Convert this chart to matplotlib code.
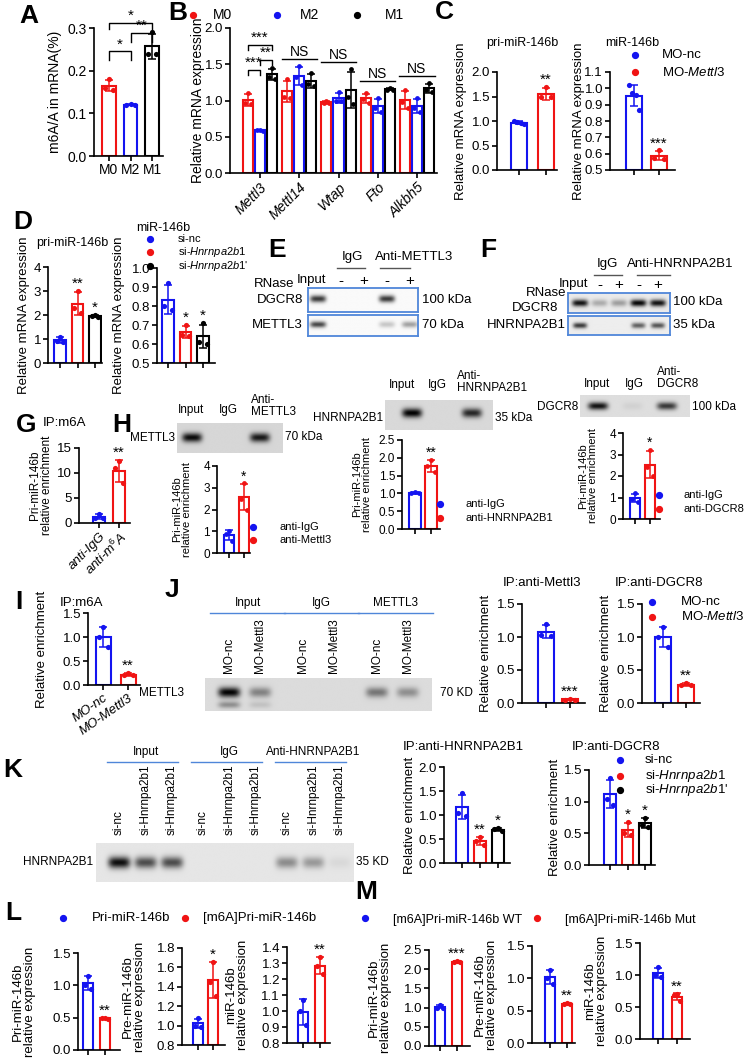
import numpy as np
import matplotlib
matplotlib.use("Agg")
import matplotlib.pyplot as plt
from matplotlib.lines import Line2D

# ---------------------------------------------------------------- data
A_groups = ["M0", "M2", "M1"]
A_vals = [[0.18, 0.16, 0.155], [0.122, 0.12, 0.119], [0.29, 0.24, 0.24]]

B_genes = ["Mettl3", "Mettl14", "Wtap", "Fto", "Alkbh5"]
B_series = ["M0", "M2", "M1"]
B_M0 = [[1.10, 0.97, 0.95], [1.29, 1.05, 1.04], [1.00, 0.97, 0.96], [1.10, 1.02, 0.97], [1.14, 0.98, 0.90]]
B_M2 = [[0.60, 0.59, 0.58], [1.47, 1.33, 1.22], [1.12, 1.00, 0.99], [1.03, 0.90, 0.84], [1.03, 0.90, 0.84]]
B_M1 = [[1.45, 1.33, 1.30], [1.38, 1.23, 1.20], [1.43, 1.05, 0.95], [1.17, 1.15, 1.14], [1.24, 1.15, 1.12]]

C_pri_nc = [1.00, 0.98, 0.95, 0.93]
C_pri_mo = [1.70, 1.50, 1.48]
C_mir_nc = [1.02, 0.97, 0.96, 0.87]
C_mir_mo = [0.62, 0.575, 0.57]

D_pri = [[1.10, 0.90, 0.88], [3.00, 2.30, 2.10], [2.00, 1.97, 1.93]]
D_mir = [[0.92, 0.80, 0.78], [0.70, 0.65, 0.64], [0.71, 0.61, 0.60]]
D_names = ["si-nc", "si-$\\mathit{Hnrnpa2b1}$", "si-$\\mathit{Hnrnpa2b1}$'"]

E_lanes_dgcr8 = [0.75, 0.0, 0.0, 0.75, 0.0]
E_lanes_mettl3 = [0.70, 0.0, 0.0, 0.20, 0.35]
F_lanes_dgcr8 = [0.85, 0.25, 0.30, 0.90, 0.85]
F_lanes_hnrnp = [0.70, 0.0, 0.0, 0.55, 0.60]

G_vals = [[1.8, 1.0, 0.9], [12.3, 11.0, 8.0]]
G_labels = ["anti-IgG", "anti-m$^{6}$A"]

H1_blot = [0.80, 0.0, 0.75]
H2_blot = [0.85, 0.0, 0.70]
H3_blot = [0.80, 0.05, 0.65]
H1_vals = [[1.0, 0.88, 0.55], [3.2, 2.5, 2.0]]
H2_vals = [[1.05, 1.0, 1.0], [1.95, 1.78, 1.60]]
H3_vals = [[1.2, 0.95, 0.8], [3.2, 2.4, 2.0]]

I_vals = [[1.2, 1.0, 0.8], [0.25, 0.20, 0.20]]
MO_names = ["MO-nc", "MO-Mettl3"]

J_blot_main = [0.85, 0.35, 0.0, 0.0, 0.40, 0.30]
J_blot_low = [0.30, 0.10, 0.0, 0.0, 0.0, 0.0]
J1_vals = [[1.2, 1.03, 1.02], [0.06, 0.05, 0.05]]
J2_vals = [[1.15, 1.0, 0.85], [0.30, 0.27, 0.27]]

K_blot = [0.85, 0.60, 0.60, 0.0, 0.0, 0.0, 0.35, 0.30, 0.05]
K1_vals = [[1.45, 1.05, 0.98], [0.55, 0.45, 0.38], [0.73, 0.70, 0.66]]
K2_vals = [[1.37, 1.05, 0.95], [0.68, 0.50, 0.48], [0.75, 0.63, 0.60]]

L1_vals = [[1.15, 1.0, 0.95], [0.50, 0.49, 0.48]]
L2_vals = [[1.08, 1.0, 0.99], [1.66, 1.45, 1.30]]
L3_vals = [[1.07, 1.0, 0.91], [1.34, 1.28, 1.23]]
M1_vals = [[1.07, 1.0, 1.0], [2.21, 2.19, 2.18]]
M2_vals = [[1.13, 1.0, 0.92], [0.62, 0.61, 0.60]]
M3_vals = [[1.12, 1.0, 0.97], [0.70, 0.68, 0.60]]

# ---------------------------------------------------------------- style
FAM = ['Liberation Sans', 'DejaVu Sans']
plt.rcParams.update({
    'font.family': FAM,
    'mathtext.fontset': 'custom',
    'mathtext.rm': 'Liberation Sans',
    'mathtext.it': 'Liberation Sans:italic',
    'mathtext.bf': 'Liberation Sans:bold',
})

RED, BLUE, BLACK = '#f01414', '#1414f0', '#000000'
EDGE = '#4f86d9'

W, H = 749, 1058
fig = plt.figure(figsize=(W / 100, H / 100), dpi=100)


def rect(x0, y0, x1, y1):
    return [x0 / W, 1 - y1 / H, (x1 - x0) / W, (y1 - y0) / H]


def ftext(x, y, s, **kw):
    kw.setdefault('va', 'center')
    fig.text(x / W, 1 - y / H, s, **kw)


def fdot(x, y, c, ms=4.2):
    fig.add_artist(Line2D([x / W], [1 - y / H], marker='o', color=c, ms=ms,
                          linestyle='none', transform=fig.transFigure))


def fline(x0, x1, y, c=EDGE, lw=1.0):
    fig.add_artist(Line2D([x0 / W, x1 / W], [1 - y / H, 1 - y / H], color=c, lw=lw,
                          transform=fig.transFigure))


def letter(x, y, s):
    ftext(x, y, s, fontsize=19, fontweight='bold', ha='center')


def bars(box, c0, step, width, groups, colors, ylim, yticks, dec, fs,
         xpos=None, spread=0.3, ms=14, lw=1.5):
    left, right, top, bottom = box
    ax = fig.add_axes(rect(left, top, right, bottom))
    ax.patch.set_visible(False)
    ax.set_xlim(-(c0 - left) / step, (right - c0) / step)
    ax.set_ylim(*ylim)
    if xpos is None:
        xpos = np.arange(len(groups), dtype=float)
    for p, d, c in zip(xpos, groups, colors):
        d = np.asarray(d, float)
        m, sd = d.mean(), d.std(ddof=1)
        ax.bar(p, m - ylim[0], width, bottom=ylim[0], color='white', edgecolor=c,
               linewidth=lw, zorder=2)
        eb = ax.errorbar(p, m, yerr=sd, fmt='none', ecolor=c, elinewidth=1.1,
                         capsize=3, capthick=1.1, zorder=3)
        for a in list(eb.lines[1]) + list(eb.lines[2]):
            a.set_clip_on(False)
        n = len(d)
        offs = np.array([0.0, -1.0, 1.0]) if n == 3 else np.linspace(-1, 1, n)
        ax.scatter(p + offs * width * spread, d, s=ms, color=c, zorder=4,
                   clip_on=False, linewidths=0)
    ax.set_xticks(xpos)
    ax.set_xticklabels([])
    ax.set_yticks(yticks)
    ax.set_yticklabels([f"{t:.{dec}f}" for t in yticks], fontsize=fs)
    for s in ('top', 'right'):
        ax.spines[s].set_visible(False)
    for s in ('left', 'bottom'):
        ax.spines[s].set_linewidth(1.2)
    ax.tick_params(length=3.5, width=1.2, pad=1.5, labelsize=fs)
    ax._box = box
    return ax


def ylab(ax, text, right_px, fs):
    left, right, top, bottom = ax._box
    ax.set_ylabel(text, fontsize=fs, linespacing=1.0)
    ax.yaxis.set_label_coords((right_px - left) / (right - left), 0.5)


def sig(ax, x, d, text, fs=11, pad=0.0):
    d = np.asarray(d, float)
    top = max(d.max(), d.mean() + d.std(ddof=1))
    rng = ax.get_ylim()[1] - ax.get_ylim()[0]
    ax.text(x, top + pad * rng, text, ha='center', va='bottom', fontsize=fs, clip_on=False)


def bracket(ax, x1, x2, y, leg, text, fs=11):
    ax.plot([x1, x1, x2, x2], [y - leg, y, y, y - leg], color='k', lw=1.0, clip_on=False)
    ax.text((x1 + x2) / 2, y, text, ha='center', va='bottom', fontsize=fs, clip_on=False)


def blot(box, lane_px, bands, bg, edge=None, band_w=16):
    left, right, top, bottom = box
    ax = fig.add_axes(rect(left, top, right, bottom))
    xs = np.linspace(left, right, 400)
    ys = np.linspace(0, 1, 100)
    X, Y = np.meshgrid(xs, ys)
    img = np.full(X.shape, bg)
    for intens, by, bh in bands:
        for lx, v in zip(lane_px, intens):
            img -= v * np.exp(-np.abs((X - lx) / (band_w / 2)) ** 4) * \
                np.exp(-((Y - by) / (bh / 2)) ** 2)
    ax.imshow(np.clip(img, 0, 1), cmap='gray', vmin=0, vmax=1,
              extent=[left, right, 0, 1], aspect='auto', origin='lower',
              interpolation='bilinear')
    ax.set_xlim(left, right)
    ax.set_ylim(0, 1)
    ax.set_xticks([])
    ax.set_yticks([])
    for s in ax.spines.values():
        if edge is None:
            s.set_visible(False)
        else:
            s.set_color(edge)
            s.set_linewidth(1.3)
    return ax


# ================================================================ A
letter(29, 16, 'A')
axA = bars((94, 163, 28, 156), 109, 21.5, 0.65, A_vals, [RED, BLUE, BLACK],
           (0, 0.3), [0, 0.1, 0.2, 0.3], 1, 10)
axA.set_xticklabels(A_groups, fontsize=10)
ylab(axA, 'm6A/A in mRNA(%)', 62, 10)
bracket(axA, 0, 1, 0.245, 0.02, '*')
bracket(axA, 1, 2, 0.288, 0.02, '**')
bracket(axA, 0, 2, 0.312, 0.015, '*')

# ================================================================ B
letter(178, 13, 'B')
for (dx, tx), c, s in zip([(193, 213), (277, 300), (357, 385)], [RED, BLUE, BLACK], B_series):
    fdot(dx, 15, c)
    ftext(tx, 15, s, fontsize=10, ha='left')
nB = len(B_genes)
xposB, grpB, colB = [], [], []
for g in range(nB):
    for k, (ser, c) in enumerate(zip([B_M0, B_M2, B_M1], [RED, BLUE, BLACK])):
        xposB.append(g + (k - 1) * 0.306)
        grpB.append(ser[g])
        colB.append(c)
axB = bars((230, 437, 28, 173), 260, 39.25, 0.255, grpB, colB, (0, 2.0),
           [0, 0.5, 1.0, 1.5, 2.0], 1, 9.5, xpos=np.array(xposB), spread=0.28, ms=12)
axB.set_xticks(np.arange(nB))
axB.set_xticklabels(B_genes, fontsize=10, style='italic', rotation=45, ha='right',
                    rotation_mode='anchor')
ylab(axB, 'Relative mRNA expression', 205, 10)
bracket(axB, -0.306, 0.306, 1.77, 0.07, '***')
bracket(axB, 0.0, 0.306, 1.56, 0.07, '**')
bracket(axB, -0.306, 0.0, 1.42, 0.07, '***')
for g in range(1, nB):
    top = max(max(np.max(B_M0[g]), np.max(B_M2[g]), np.max(B_M1[g])),
              max(np.mean(s[g]) + np.std(s[g], ddof=1) for s in [B_M0, B_M2, B_M1]))
    axB.plot([g - 0.45, g + 0.45], [top + 0.1] * 2, color='k', lw=1.0, clip_on=False)
    axB.text(g, top + 0.1, 'NS', ha='center', va='bottom', fontsize=10)

# ================================================================ C
letter(444, 12, 'C')
axC1 = bars((497, 557, 72, 170), 519, 27, 0.6, [C_pri_nc, C_pri_mo], [BLUE, RED],
            (0, 2.0), [0, 0.5, 1.0, 1.5, 2.0], 1, 9.5)
ylab(axC1, 'Relative mRNA expression', 467, 9.5)
sig(axC1, 1, C_pri_mo, '**')
ftext(522, 43, 'pri-miR-146b', fontsize=9, ha='center')

axC2 = bars((610, 675, 72, 170), 634, 25, 0.62, [C_mir_nc, C_mir_mo], [BLUE, RED],
            (0.5, 1.1), [0.5, 0.6, 0.7, 0.8, 0.9, 1.0, 1.1], 1, 9.5)
ylab(axC2, 'Relative mRNA expression', 585, 9.5)
sig(axC2, 1, C_mir_mo, '***')
ftext(632, 43, 'miR-146b', fontsize=9, ha='center')
fdot(635, 55, BLUE)
fdot(635, 72, RED)
ftext(662, 55, 'MO-nc', fontsize=9.5, ha='left')
ftext(662, 72, 'MO-$\\mathit{Mettl3}$', fontsize=9.5, ha='left')

# ================================================================ D
letter(23, 222, 'D')
axD1 = bars((48, 102, 267, 363), 60, 17.5, 0.63, D_pri, [BLUE, RED, BLACK],
            (0, 4), [0, 1, 2, 3, 4], 0, 9.5)
ylab(axD1, 'Relative mRNA expression', 30, 9.5)
sig(axD1, 1, D_pri[1], '**')
sig(axD1, 2, D_pri[2], '*')
ftext(72, 243, 'pri-miR-146b', fontsize=9, ha='center')

axD2 = bars((157, 215, 268, 363), 168, 17.5, 0.68, D_mir, [BLUE, RED, BLACK],
            (0.5, 1.0), [0.5, 0.6, 0.7, 0.8, 0.9, 1.0], 1, 9.5)
ylab(axD2, 'Relative mRNA expression', 125, 9.5)
sig(axD2, 1, D_mir[1], '*')
sig(axD2, 2, D_mir[2], '*')
ftext(163, 228, 'miR-146b', fontsize=9, ha='center')
for yy, c, nm in zip([238.5, 252, 266], [BLUE, RED, BLACK], D_names):
    fdot(150, yy, c)
    ftext(178, yy, nm, fontsize=8, ha='left')

# ================================================================ E
letter(277, 250, 'E')
E_lanes = 318 + 23 * np.arange(5)
blot((308, 418, 288, 312), E_lanes, [(E_lanes_dgcr8, 0.55, 0.3)], 0.98, EDGE, band_w=16)
blot((308, 418, 315, 336), E_lanes, [(E_lanes_mettl3, 0.55, 0.3)], 0.98, EDGE, band_w=16)
fline(E_lanes[1] - 4, E_lanes[2] + 1, 268, c='#555555')
fline(E_lanes[3] - 7, E_lanes[4] + 0, 268, c='#555555')
ftext((E_lanes[1] + E_lanes[2]) / 2, 257, 'IgG', fontsize=9.5, ha='center')
ftext(375, 257, 'Anti-METTL3', fontsize=9.5, ha='left')
ftext(294, 284, 'RNase', fontsize=9.5, ha='right')
ftext(312, 280, 'Input', fontsize=9.5, ha='center')
for lx, s in zip(E_lanes[1:], ['-', '+', '-', '+']):
    ftext(lx, 281, s, fontsize=11, ha='center')
ftext(303, 300, 'DGCR8', fontsize=9.5, ha='right')
ftext(303, 325, 'METTL3', fontsize=9.5, ha='right')
ftext(422, 300, '100 kDa', fontsize=9.5, ha='left')
ftext(422, 325, '70 kDa', fontsize=9.5, ha='left')

# ================================================================ F
letter(488, 250, 'F')
F_lanes = 580 + 19.5 * np.arange(5)
blot((568, 670, 293, 313), F_lanes, [(F_lanes_dgcr8, 0.5, 0.35)], 0.92, EDGE, band_w=16)
blot((568, 670, 316, 335), F_lanes, [(F_lanes_hnrnp, 0.5, 0.3)], 0.93, EDGE, band_w=14)
fline(F_lanes[1] - 6, F_lanes[2] + 3, 275, c='#555555')
fline(F_lanes[3] - 2, F_lanes[4] + 12, 275, c='#555555')
ftext(607, 264, 'IgG', fontsize=9.5, ha='center')
ftext(627, 264, 'Anti-HNRNPA2B1', fontsize=9.5, ha='left')
ftext(566, 293, 'RNase', fontsize=9.5, ha='right')
ftext(573, 284, 'Input', fontsize=9.5, ha='center')
for lx, s in zip(F_lanes[1:], ['-', '+', '-', '+']):
    ftext(lx, 285, s, fontsize=11, ha='center')
ftext(558, 308, 'DGCR8', fontsize=9.5, ha='right')
ftext(566, 325, 'HNRNPA2B1', fontsize=9.5, ha='right')
ftext(673, 302, '100 kDa', fontsize=9.5, ha='left')
ftext(673, 325, '35 kDa', fontsize=9.5, ha='left')

# ================================================================ G
letter(26, 425, 'G')
ftext(43, 423, 'IP:m6A', fontsize=9.5, ha='left')
axG = bars((79, 130, 448, 523), 99, 20, 0.6, G_vals, [BLUE, RED], (0, 15),
           [0, 5, 10, 15], 0, 9.5)
axG.set_xticklabels(G_labels, fontsize=9.5, style='italic', rotation=45, ha='right',
                    rotation_mode='anchor')
ylab(axG, 'Pri-miR-146b\nrelative enrichment', 53, 8.5)
sig(axG, 1, G_vals[1], '**')

# ================================================================ H
letter(122, 425, 'H')
# H1
H1_lanes = 192 + 34 * np.arange(3)
blot((177, 283, 423, 453), H1_lanes, [(H1_blot, 0.5, 0.3)], 0.84, band_w=20)
ftext(191, 410, 'Input', fontsize=8.5, ha='center')
ftext(228, 410, 'IgG', fontsize=8.5, ha='center')
ftext(251, 406, 'Anti-\nMETTL3', fontsize=8.5, ha='left', linespacing=1.0)
ftext(175, 438, 'METTL3', fontsize=8.5, ha='right')
ftext(285, 437, '70 kDa', fontsize=8.5, ha='left')
axH1 = bars((217, 250, 466, 553), 229, 15, 0.73, H1_vals, [BLUE, RED], (0, 4),
            [0, 1, 2, 3, 4], 0, 8.5, ms=12)
ylab(axH1, 'Pri-miR-146b\nrelative enrichment', 192, 8)
sig(axH1, 1, H1_vals[1], '*', fs=10)
fdot(253, 527, BLUE)
fdot(253, 540, RED)
ftext(280, 527, 'anti-IgG', fontsize=8, ha='left')
ftext(280, 540, 'anti-Mettl3', fontsize=8, ha='left')
# H2
H2_lanes = 412 + 30 * np.arange(3)
blot((385, 493, 400, 430), H2_lanes, [(H2_blot, 0.55, 0.3)], 0.85, band_w=20)
ftext(402, 385, 'Input', fontsize=8.5, ha='center')
ftext(437, 385, 'IgG', fontsize=8.5, ha='center')
ftext(457, 382, 'Anti-\nHNRNPA2B1', fontsize=8.5, ha='left', linespacing=1.0)
ftext(383, 418, 'HNRNPA2B1', fontsize=8.5, ha='right')
ftext(495, 418, '35 kDa', fontsize=8.5, ha='left')
axH2 = bars((402, 440, 440, 529), 415, 16, 0.75, H2_vals, [BLUE, RED], (0, 2.5),
            [0, 0.5, 1.0, 1.5, 2.0, 2.5], 1, 8.5, ms=12)
ylab(axH2, 'Pri-miR-146b\nrelative enrichment', 372, 8)
sig(axH2, 1, H2_vals[1], '**', fs=10)
fdot(440, 504, BLUE)
fdot(440, 518, RED)
ftext(466, 504, 'anti-IgG', fontsize=8, ha='left')
ftext(466, 518, 'anti-HNRNPA2B1', fontsize=8, ha='left')
# H3
H3_lanes = 598 + 34.5 * np.arange(3)
blot((580, 690, 395, 417), H3_lanes, [(H3_blot, 0.5, 0.35)], 0.87, band_w=20)
ftext(597, 384, 'Input', fontsize=8.5, ha='center')
ftext(634, 384, 'IgG', fontsize=8.5, ha='center')
ftext(657, 378, 'Anti-\nDGCR8', fontsize=8.5, ha='left', linespacing=1.0)
ftext(578, 407, 'DGCR8', fontsize=8.5, ha='right')
ftext(692, 407, '100 kDa', fontsize=8.5, ha='left')
axH3 = bars((623, 660, 433, 519), 635, 15, 0.73, H3_vals, [BLUE, RED], (0, 4),
            [0, 1, 2, 3, 4], 0, 8.5, ms=12)
ylab(axH3, 'Pri-miR-146b\nrelative enrichment', 598, 8)
sig(axH3, 1, H3_vals[1], '*', fs=10)
fdot(659, 495, BLUE)
fdot(659, 509, RED)
ftext(683, 495, 'anti-IgG', fontsize=8, ha='left')
ftext(683, 509, 'anti-DGCR8', fontsize=8, ha='left')

# ================================================================ I
letter(19, 602, 'I')
ftext(60, 603, 'IP:m6A', fontsize=9.5, ha='left')
axI = bars((88, 140, 613, 685), 103, 25, 0.6, I_vals, [BLUE, RED], (0, 1.5),
           [0, 0.5, 1.0, 1.5], 1, 9.5)
axI.set_xticklabels(MO_names, fontsize=9.5, style='italic', rotation=35, ha='right',
                    rotation_mode='anchor')
ylab(axI, 'Relative enrichment', 48, 9.5)
sig(axI, 1, I_vals[1], '**')

# ================================================================ J
letter(172, 590, 'J')
J_lanes = np.concatenate([g + 31 * np.arange(2) for g in 229 + 74 * np.arange(3)])
blot((205, 432, 678, 711), J_lanes,
     [(J_blot_main, 0.55, 0.3), (J_blot_low, 0.18, 0.2)], 0.86, band_w=22)
for k, name in enumerate(['Input', 'IgG', 'METTL3']):
    a, b = J_lanes[2 * k], J_lanes[2 * k + 1]
    fline(a - 19, b + 25, 613)
    ftext((a + b) / 2 + 3, 603, name, fontsize=8.5, ha='center')
for lx, nm in zip(J_lanes, MO_names * 3):
    ftext(lx, 673, nm, fontsize=8.5, ha='center', va='bottom', rotation=90)
ftext(184, 693, 'METTL3', fontsize=8.5, ha='right')
ftext(440, 693, '70 KD', fontsize=8.5, ha='left')

axJ1 = bars((522, 585, 604, 703), 546, 24, 0.7, J1_vals, [BLUE, RED], (0, 1.5),
            [0, 0.5, 1.0, 1.5], 1, 9.5)
ylab(axJ1, 'Relative enrichment', 492, 9.5)
sig(axJ1, 1, J1_vals[1], '***')
ftext(542, 583, 'IP:anti-Mettl3', fontsize=9.5, ha='center')

axJ2 = bars((642, 700, 604, 703), 663, 23, 0.7, J2_vals, [BLUE, RED], (0, 1.5),
            [0, 0.5, 1.0, 1.5], 1, 9.5)
ylab(axJ2, 'Relative enrichment', 612, 9.5)
sig(axJ2, 1, J2_vals[1], '**')
ftext(659, 583, 'IP:anti-DGCR8', fontsize=9.5, ha='center')
fdot(652, 602, BLUE)
fdot(652, 617, RED)
ftext(681, 602, 'MO-nc', fontsize=9.5, ha='left')
ftext(681, 617, 'MO-$\\mathit{Mettl3}$', fontsize=9.5, ha='left')

# ================================================================ K
letter(13, 770, 'K')
K_lanes = np.concatenate([g + 26.5 * np.arange(3) for g in 119 + 84 * np.arange(3)])
blot((96, 354, 843, 882), K_lanes, [(K_blot, 0.5, 0.3)], 0.9, band_w=22)
K_lane_names = ['si-nc', 'si-Hnrnpa2b1', 'si-Hnrnpa2b1']
for k, name in enumerate(['Input', 'IgG', 'Anti-HNRNPA2B1']):
    a, b = K_lanes[3 * k], K_lanes[3 * k + 2]
    fline(a - 12, b + 6, 762)
    ftext((a + b) / 2, 752, name, fontsize=8.5, ha='center')
for lx, nm in zip(K_lanes, K_lane_names * 3):
    ftext(lx, 835, nm, fontsize=8.5, ha='center', va='bottom', rotation=90)
ftext(93, 862, 'HNRNPA2B1', fontsize=8.5, ha='right')
ftext(356, 862, '35 KD', fontsize=8.5, ha='left')

axK1 = bars((444, 510, 767, 863), 462, 18, 0.67, K1_vals, [BLUE, RED, BLACK], (0, 2.0),
            [0, 0.5, 1.0, 1.5, 2.0], 1, 9.5)
ylab(axK1, 'Relative enrichment', 416, 9.5)
sig(axK1, 1, K1_vals[1], '**')
sig(axK1, 2, K1_vals[2], '*')
ftext(463, 747, 'IP:anti-HNRNPA2B1', fontsize=9.5, ha='center')

axK2 = bars((589, 655, 770, 865), 610, 17.5, 0.63, K2_vals, [BLUE, RED, BLACK], (0, 1.5),
            [0, 0.5, 1.0, 1.5], 1, 9.5)
ylab(axK2, 'Relative enrichment', 561, 9.5)
sig(axK2, 1, K2_vals[1], '*')
sig(axK2, 2, K2_vals[2], '*')
ftext(616, 747, 'IP:anti-DGCR8', fontsize=9.5, ha='center')
for yy, c, nm in zip([760, 776, 790], [BLUE, RED, BLACK], D_names):
    fdot(620, yy, c)
    ftext(645, yy, nm, fontsize=9.5, ha='left')

# ================================================================ L
letter(13, 913, 'L')
fdot(63, 918, BLUE)
ftext(92, 918, 'Pri-miR-146b', fontsize=9.5, ha='left')
fdot(185, 918, RED)
ftext(203, 918, '[m6A]Pri-miR-146b', fontsize=9.5, ha='left')
axL1 = bars((78, 120, 953, 1050), 88, 17, 0.6, L1_vals, [BLUE, RED], (0, 1.5),
            [0, 0.5, 1.0, 1.5], 1, 9.5)
ylab(axL1, 'Pri-miR-146b\nrelative expression', 36, 9.5)
sig(axL1, 1, L1_vals[1], '**')
axL2 = bars((182, 225, 948, 1045), 198, 15, 0.67, L2_vals, [BLUE, RED], (0.8, 1.8),
            [0.8, 1.0, 1.2, 1.4, 1.6, 1.8], 1, 9.5)
ylab(axL2, 'Pre-miR-146b\nrelative expression', 146, 9.5)
sig(axL2, 1, L2_vals[1], '*')
axL3 = bars((287, 330, 947, 1043), 303, 17, 0.6, L3_vals, [BLUE, RED], (0.8, 1.4),
            [0.8, 0.9, 1.0, 1.1, 1.2, 1.3, 1.4], 1, 9.5)
ylab(axL3, 'miR-146b\nrelative expression', 249, 9.5)
sig(axL3, 1, L3_vals[1], '**')

# ================================================================ M
letter(366, 892, 'M')
fdot(365, 918, BLUE)
ftext(393, 920, '[m6A]Pri-miR-146b WT', fontsize=9, ha='left')
fdot(537, 918, RED)
ftext(565, 920, '[m6A]Pri-miR-146b Mut', fontsize=9, ha='left')
axM1 = bars((429, 470, 950, 1046), 440, 17, 0.6, M1_vals, [BLUE, RED], (0, 2.5),
            [0, 0.5, 1.0, 1.5, 2.0, 2.5], 1, 9.5)
ylab(axM1, 'Pri-miR-146b\nrelative expression', 392, 9.5)
sig(axM1, 1, M1_vals[1], '***')
axM2 = bars((532, 575, 946, 1043), 550, 17, 0.6, M2_vals, [BLUE, RED], (0, 1.5),
            [0, 0.5, 1.0, 1.5], 1, 9.5)
ylab(axM2, 'Pre-miR-146b\nrelative expression', 498, 9.5)
sig(axM2, 1, M2_vals[1], '**')
axM3 = bars((640, 690, 943, 1039), 658, 19, 0.55, M3_vals, [BLUE, RED], (0, 1.5),
            [0, 0.5, 1.0, 1.5], 1, 9.5)
ylab(axM3, 'miR-146b\nrelative expression', 608, 9.5)
sig(axM3, 1, M3_vals[1], '**')

fig.savefig('out.png', dpi=100)
